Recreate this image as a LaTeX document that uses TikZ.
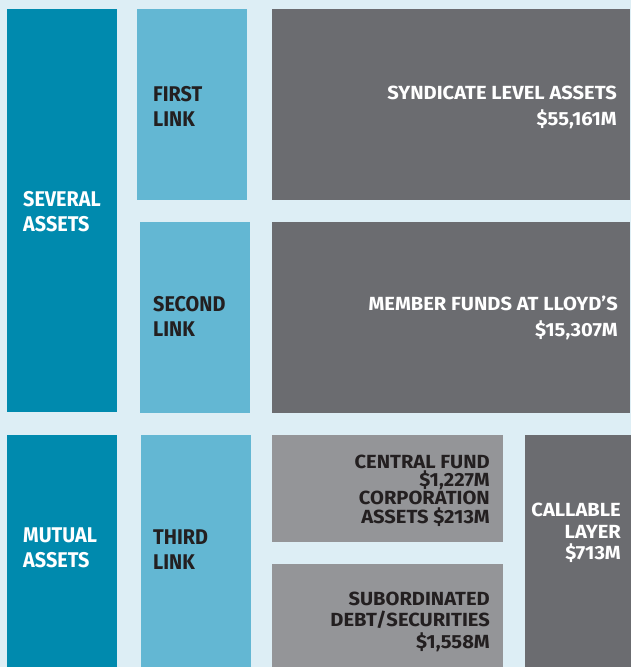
\documentclass[tikz,border=0pt]{standalone}
\usepackage{fontspec}
\setmainfont{Fira Sans}
\newfontfamily\leftfont{Fira Sans}[FakeStretch=0.93]
\newfontfamily\grayfont{Fira Sans}[FakeStretch=1.06]
\definecolor{bgc}{RGB}{221,238,245}
\definecolor{teal}{RGB}{0,138,174}
\definecolor{linkc}{RGB}{99,183,211}
\definecolor{dgray}{RGB}{107,108,112}
\definecolor{lgray}{RGB}{148,149,152}
\definecolor{inkc}{RGB}{35,31,32}
\tikzset{
  box/.style={anchor=north west, inner sep=0pt, outer sep=0pt, draw=none},
  bigtxt/.style={inner sep=0pt, font=\leftfont\fontsize{21.3}{25}\selectfont\bfseries, align=left, anchor=base west},
  rtxt/.style={inner sep=0pt, align=right, anchor=base east},
}
\begin{document}
\begin{tikzpicture}[x=1pt,y=-1pt]
\fill[bgc] (0,0) rectangle (631,667);
\useasboundingbox (0,0) rectangle (631,667);
% boxes
\node[box, fill=teal, minimum width=110pt, minimum height=403pt] (several) at (7,9) {};
\node[box, fill=linkc, minimum width=110pt, minimum height=191pt] (first) at (137,9) {};
\node[box, fill=dgray, minimum width=358pt, minimum height=191pt] (synd) at (272,9) {};
\node[box, fill=linkc, minimum width=110pt, minimum height=191pt] (second) at (140,222) {};
\node[box, fill=dgray, minimum width=358pt, minimum height=191pt] (member) at (272,222) {};
\node[box, fill=teal, minimum width=110pt, minimum height=232pt] (mutual) at (7,435) {};
\node[box, fill=linkc, minimum width=110pt, minimum height=232pt] (third) at (141,435) {};
\node[box, fill=lgray, minimum width=231pt, minimum height=107pt] (central) at (272,435) {};
\node[box, fill=lgray, minimum width=231pt, minimum height=103pt] (subord) at (272,564) {};
\node[box, fill=dgray, minimum width=106pt, minimum height=232pt] (callable) at (525,435) {};
% texts (anchor = baseline of the last line)
\node[bigtxt, text=white] (severalT) at (23,231.7) {SEVERAL\\ASSETS};
\node[bigtxt, text=inkc] (firstT) at (153,126) {FIRST\\LINK};
\node[bigtxt, text=inkc] (secondT) at (153,336.7) {SECOND\\LINK};
\node[bigtxt, text=white] (mutualT) at (23,567.7) {MUTUAL\\ASSETS};
\node[bigtxt, text=inkc] (thirdT) at (153,569) {THIRD\\LINK};
\node[rtxt, text=white, font=\grayfont\fontsize{19}{25.7}\selectfont\bfseries] (syndT) at (617,125) {SYNDICATE LEVEL ASSETS\\\$55,161M};
\node[rtxt, text=white, font=\grayfont\fontsize{19}{26}\selectfont\bfseries] (memberT) at (618,336.7) {MEMBER FUNDS AT LLOYD’S\\\$15,307M};
\node[rtxt, text=inkc, font=\grayfont\fontsize{19}{18.4}\selectfont\bfseries] (centralT) at (490,523.2) {CENTRAL FUND\\\$1,227M\\CORPORATION\\ASSETS \$213M};
\node[rtxt, text=inkc, font=\grayfont\fontsize{19}{21.2}\selectfont\bfseries] (subordT) at (490,648) {SUBORDINATED\\DEBT/SECURITIES\\\$1,558M};
\node[rtxt, text=white, font=\grayfont\fontsize{19}{21.3}\selectfont\bfseries] (callT) at (621,559.3) {CALLABLE\\LAYER\\\$713M};
\end{tikzpicture}
\end{document}
